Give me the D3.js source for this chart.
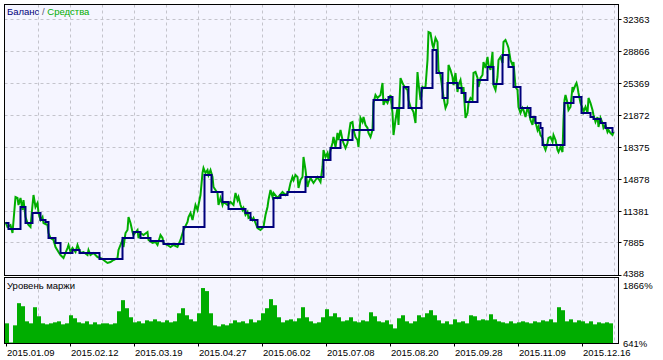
<!DOCTYPE html>
<html><head><meta charset="utf-8">
<script src="https://cdn.jsdelivr.net/npm/d3@7"></script>
<style>
html,body{margin:0;padding:0;background:#fff;}
svg{display:block;font-family:"Liberation Sans",Arial,sans-serif;}
</style></head>
<body><svg id="c" width="663" height="360"></svg>
<script>
// ---- data (deal number -> account value) ----
const equityDeals = [0,2,5,7,10,12,13,15,17,18,20,22,23,25,27,28,30,32,33,35,37,38,42,43,45,48,50,53,55,58,62,63,65,67,70,72,75,78,82,83,85,88,92,95,98,102,105,108,112,113,117,118,120,122,123,125,127,128,132,133,135,138,142,143,147,150,152,155,157,158,162,165,168,172,175,178,182,183,185,187,188,190,192,193,195,197,198,200,202,203,205,207,208,210,212,213,215,217,218,222,225,228,230,232,233,235,237,238,240,242,243,245,247,248,250,252,255,258,260,262,263,265,267,268,272,277,280,283,285,287,288,290,292,293,295,297,298,300,302,303,305,308,312,315,317,318,320,322,323,325,327,328,330,332,333,335,337,338,340,342,345,347,348,350,352,353,355,357,358,360,362,363,365,367,368,370,372,375,377,378,380,382,383,385,387,388,390,392,393,395,397,398,400,402,403,405,407,408,410,412,413,415,417,418,420,422,423,425,427,428,430,432,433,435,437,438,440,442,443,445,447,448,450,452,453,455,457,458,460,462,463,465,467,468,470,472,473,475,477,478,480,482,483,485,487,488,490,492,493,495,497,498,500,502,503,505,507,508,510,512,513,515,517,518,520,522,523,525,527,528,530,532,533,535,537,538,540,542,543,545,547,548,550,552,553,555,557,558,559,560,562,563,565,567,568,570,571,572,573,575,577,578,580,582,583,585,587,588,590,592,593,595,597,598,600,602,603,605,607,608];
const equityValues = [10125,9578,9797,8923,12857,12748,11983,12748,11436,12529,10671,10016,9797,9578,11983,13075,11764,12201,11108,10343,10671,10016,9797,8923,8376,8158,7393,6846,6519,6191,7284,7611,6846,7284,6846,7611,6737,6846,6519,7065,6519,6737,6300,6191,5972,5644,5754,5972,6191,7065,8158,7393,8923,9251,10671,10016,9032,8704,9251,8376,8923,8704,9032,8158,7830,7939,7611,8704,8376,7830,7611,7393,7611,7393,8158,9251,10125,10671,11108,10343,10890,11983,11436,11983,13075,15480,16026,15480,15807,15261,15807,15042,13950,13622,13294,11983,12748,11983,12310,11983,12310,11983,13294,12529,12857,11983,11436,11655,10890,11218,10562,10671,10343,10562,10016,9469,9251,9578,10890,11764,12529,13622,12857,13294,12748,13403,13075,13403,14387,15042,14715,15261,15042,13840,14715,15042,17228,15807,13950,14387,14933,14387,15042,14496,16135,17993,17228,17665,16900,17993,18758,19414,18321,19851,19086,20179,19086,18758,18212,18758,20944,21053,20179,19414,19086,18321,21490,21053,21599,20725,20397,19851,19414,20179,23129,24003,23676,24003,25315,22911,23457,23129,23457,24003,22036,19632,21271,22583,20725,25861,25315,25096,24768,24550,23457,22692,22364,22146,20944,26517,25315,23457,24878,24768,24878,27828,30888,30779,29467,29140,30232,29795,26735,26189,24550,23785,22583,23129,27282,26735,25970,25096,26408,24331,25096,25643,24222,24878,21490,22036,23129,23676,23457,26408,26517,25861,24878,25861,26189,27610,26954,28156,27282,26735,28702,25096,24550,25970,27828,28156,27500,29795,30014,29467,29140,27828,27282,27610,24878,24550,22692,22036,22583,22364,21599,22583,22364,21271,20725,21599,21053,20179,20506,19632,19304,18539,17993,18758,19304,19414,18867,19632,19086,17993,17774,18321,17774,21271,23457,24003,23129,22364,22692,24878,24550,25096,25315,24878,24222,23129,22583,22146,22692,22036,23676,23129,22364,21818,21053,21599,20506,21490,20944,20397,20725,19960,20179,19851,19632,19960];
const balanceDeals = [0,3,15,20,27,35,40,43,50,55,67,74,94,117,128,135,145,158,178,199,206,217,223,240,245,252,268,275,282,300,318,325,335,347,368,383,387,398,403,416,427,431,437,442,452,456,460,472,482,488,497,503,508,515,525,530,535,537,559,568,576,585,588,595,600,607,608];
const balanceValues = [10016,9360,11764,10016,11108,10343,10125,8376,7830,6737,7065,6737,6081,8376,9032,8376,8049,7721,9578,15261,13403,12310,11545,11108,10343,9578,12748,13075,13403,15042,16900,18212,19086,20179,23457,23785,22583,24878,22583,24768,28921,26408,23676,25315,24768,24222,23238,25643,27063,25205,28375,27063,24878,22583,21599,20944,20397,18539,23129,23785,22036,21599,21381,20944,20397,19960,19960];
const marginLevel = [1024,660,986,1407,1349,1062,1024,1330,1158,1024,1005,1024,1043,1062,1005,1024,1177,1120,1043,1024,1062,1005,1043,1005,1024,1024,1005,1024,1253,1464,1311,1139,1043,1062,1024,1081,1062,1100,1062,1043,1081,1043,1062,1215,1311,1177,1100,1062,1215,1694,1636,1215,986,966,1005,986,1024,1081,1043,1062,1024,1100,1043,1081,1215,1311,1483,1368,1139,1043,1081,1100,1062,1120,1330,1139,1062,1024,1043,1139,1292,1158,1215,1139,1062,1081,1139,1062,1043,1081,1062,1234,1158,1062,1043,1081,1005,928,1120,1177,1062,1024,1062,1177,1139,1215,1273,1177,1081,1024,1062,1005,1100,1043,1062,1024,1177,1158,1081,1100,1081,1196,1100,1062,1043,1024,1062,1024,1043,1062,1043,1024,1062,1043,1081,1062,1100,1043,1330,1273,1062,1100,1043,1081,1062,1024,1062,1005,1043,1024,1043,1024];
const dealsPerBar = 4;
const xTickDeals = [0,64,128,192,256,320,384,448,512,576];
const xTickLabels = ["2015.01.09","2015.02.12","2015.03.19","2015.04.27","2015.06.02","2015.07.08","2015.08.20","2015.09.28","2015.11.09","2015.12.16"];
const yTickValues = [4388,7885,11381,14878,18375,21872,25369,28866,32363];
const marginTicks = [641,1866];
const legendParts = ["Баланс"," / ","Средства"];
const subTitle = "Уровень маржи";

// ---- layout ----
const svg = d3.select("#c");
const L = 4.5, R = 618.5, mainTop = 4.5, mainBot = 275.5, subTop = 277.5, subBot = 343.5;
const plotBg = "#f5f5ff", gridCol = "#c4c4cc", blue = "#00007c", green = "#00ad00";

const x = d3.scaleLinear().domain([0, 608]).range([5.5, 613.5]);
const y = d3.scaleLinear().domain([4388, 32363]).range([274.5, 18.5]);
const ym = d3.scaleLinear().domain([641, 1866]).range([343.5, 279]);

svg.append("rect").attr("x",L).attr("y",mainTop).attr("width",R-L).attr("height",mainBot-mainTop).attr("fill",plotBg);
svg.append("rect").attr("x",L).attr("y",subTop).attr("width",R-L).attr("height",subBot-subTop).attr("fill",plotBg);

const defs = svg.append("defs");
defs.append("clipPath").attr("id","cm").append("rect").attr("x",L+0.5).attr("y",mainTop+0.5).attr("width",R-L-1).attr("height",mainBot-mainTop-1);
defs.append("clipPath").attr("id","cs").append("rect").attr("x",L+0.5).attr("y",subTop+0.5).attr("width",R-L-1).attr("height",subBot-subTop-0.5);
defs.append("clipPath").attr("id","cl").append("rect").attr("x",R+1).attr("y",0).attr("width",60).attr("height",277);

const vGrid = d3.range(32, 609, 32);
const gm = svg.append("g").attr("clip-path","url(#cm)");
gm.selectAll("line.v").data(vGrid).join("line")
  .attr("x1",d=>Math.round(x(d))+0.5).attr("x2",d=>Math.round(x(d))+0.5)
  .attr("y1",mainTop).attr("y2",mainBot)
  .attr("stroke",gridCol).attr("stroke-dasharray","3,3");
gm.selectAll("line.h").data(yTickValues.slice(1)).join("line")
  .attr("x1",L).attr("x2",R)
  .attr("y1",d=>Math.round(y(d))+0.5).attr("y2",d=>Math.round(y(d))+0.5)
  .attr("stroke",gridCol).attr("stroke-dasharray","3,3");

gm.append("path").datum(equityDeals.map((d,i)=>[d,equityValues[i]]))
  .attr("fill","none").attr("stroke",green).attr("stroke-width",2)
  .attr("d", d3.line().x(d=>x(d[0])).y(d=>y(d[1])));
gm.append("path").datum(balanceDeals.map((d,i)=>[d,balanceValues[i]]))
  .attr("fill","none").attr("stroke",blue).attr("stroke-width",2)
  .attr("d", d3.line().curve(d3.curveStepAfter).x(d=>x(d[0])).y(d=>y(d[1])));

const gs = svg.append("g").attr("clip-path","url(#cs)");
gs.selectAll("line.v").data(vGrid).join("line")
  .attr("x1",d=>Math.round(x(d))+0.5).attr("x2",d=>Math.round(x(d))+0.5)
  .attr("y1",subTop).attr("y2",subBot)
  .attr("stroke",gridCol).attr("stroke-dasharray","3,3");
gs.selectAll("rect.b").data(marginLevel).join("rect")
  .attr("x",(d,i)=>x(i*dealsPerBar)-0.5)
  .attr("width",(d,i)=>x((i+1)*dealsPerBar)-x(i*dealsPerBar))
  .attr("y",d=>ym(d)).attr("height",d=>ym(641)-ym(d)+1)
  .attr("fill",green);

svg.append("rect").attr("x",L).attr("y",mainTop).attr("width",R-L).attr("height",mainBot-mainTop).attr("fill","none").attr("stroke","#000");
svg.append("rect").attr("x",L).attr("y",subTop).attr("width",R-L).attr("height",subBot-subTop).attr("fill","none").attr("stroke","#000");

const ax = svg.append("g").attr("font-size","9.5px").attr("fill","#000");
ax.selectAll("text.y").data(yTickValues).join("text")
  .attr("x",623).attr("y",d=>d===4388 ? y(d)+2.5 : y(d)+4).text(d=>d);
ax.selectAll("line.yt").data(yTickValues).join("line")
  .attr("x1",R).attr("x2",R+3).attr("y1",d=>Math.round(y(d))+0.5).attr("y2",d=>Math.round(y(d))+0.5).attr("stroke","#000");

const ax2 = svg.append("g").attr("font-size","9.5px").attr("fill","#000");
ax2.selectAll("text").data(marginTicks).join("text")
  .attr("x",623).attr("y",(d,i)=> i===0 ? 346.5 : 288.5).text(d=>d+"%");

const xa = svg.append("g").attr("font-size","9.5px").attr("fill","#000");
xa.selectAll("line").data(xTickDeals).join("line")
  .attr("x1",d=>Math.round(x(d))+0.5).attr("x2",d=>Math.round(x(d))+0.5)
  .attr("y1",subBot).attr("y2",subBot+3).attr("stroke","#000");
xa.selectAll("text").data(xTickDeals).join("text")
  .attr("x",d=>x(d)+1.5).attr("y",356).text((d,i)=>xTickLabels[i]);

const lg = svg.append("text").attr("x",7).attr("y",15).attr("font-size","9.5px");
const legCols = [blue,"#555577",green];
legendParts.forEach((t,i)=>lg.append("tspan").attr("fill",legCols[i]).text(t));
svg.append("text").attr("x",7).attr("y",289).attr("font-size","9.5px").attr("fill","#000").text(subTitle);
</script></body></html>
